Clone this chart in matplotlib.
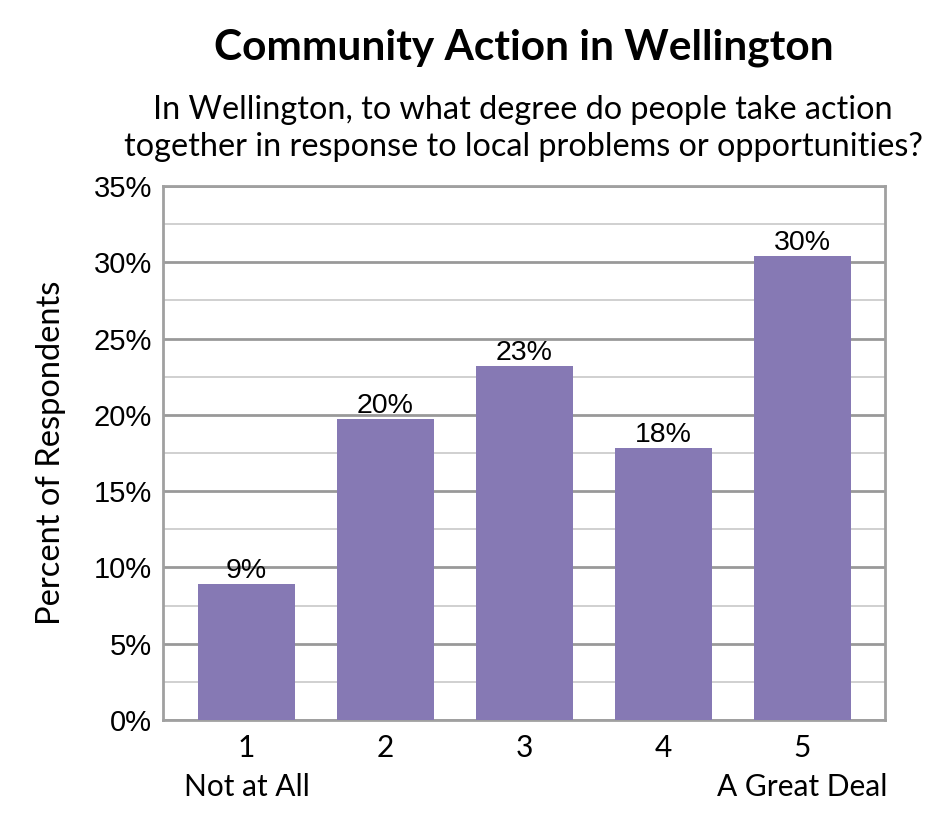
import numpy as np
import matplotlib.pyplot as plt
from matplotlib.ticker import MultipleLocator, FuncFormatter

# data
categories = ['1\nNot at All', '2', '3', '4', '5\nA Great Deal']
values = [8.9, 19.7, 23.2, 17.8, 30.4]
labels = ['9%', '20%', '23%', '18%', '30%']

bar_color = '#8679B4'

fig = plt.figure(figsize=(9.45, 8.4), dpi=100)
ax = fig.add_axes([0.1725, 0.1429, 0.7635, 0.6357])

x = np.arange(len(values))
ax.bar(x, values, width=0.70, color=bar_color, zorder=3)

for xi, v, lab in zip(x, values, labels):
    ax.text(xi, v, lab, ha='center', va='bottom', fontsize=20.5,
            family='Liberation Sans', zorder=4)

ax.set_xlim(-0.6, len(values) - 0.41)
ax.set_ylim(0, 35)
ax.yaxis.set_major_locator(MultipleLocator(5))
ax.yaxis.set_minor_locator(MultipleLocator(2.5))
ax.yaxis.set_major_formatter(FuncFormatter(lambda v, p: f'{v:.0f}%'))

# gridlines
ax.grid(axis='y', which='major', color='#999999', linewidth=2, zorder=0)
ax.grid(axis='y', which='minor', color='#c8c8c8', linewidth=1.2, zorder=0)

for s in ax.spines.values():
    s.set_color('#a0a0a0')
    s.set_linewidth(2)

ax.set_xticks(x)
ax.set_xticklabels(categories, fontsize=21.5, family='Lato', linespacing=1.5)
ax.tick_params(axis='x', length=0, pad=10)
ax.tick_params(axis='y', which='both', length=0, pad=8)
for t in ax.get_yticklabels():
    t.set_fontsize(21)
    t.set_family('Liberation Sans')

ax.set_ylabel('Percent of Respondents', fontsize=23.5, family='Lato', labelpad=20)

fig.text(0.5545, 0.943, 'Community Action in Wellington', ha='center', va='center',
         fontsize=30.5, fontweight='bold', family='Lato')
fig.text(0.5535, 0.847, 'In Wellington, to what degree do people take action\n'
         'together in response to local problems or opportunities?',
         ha='center', va='center', fontsize=23.3, family='Lato', linespacing=1.3)

fig.savefig('out.png', dpi=100)
